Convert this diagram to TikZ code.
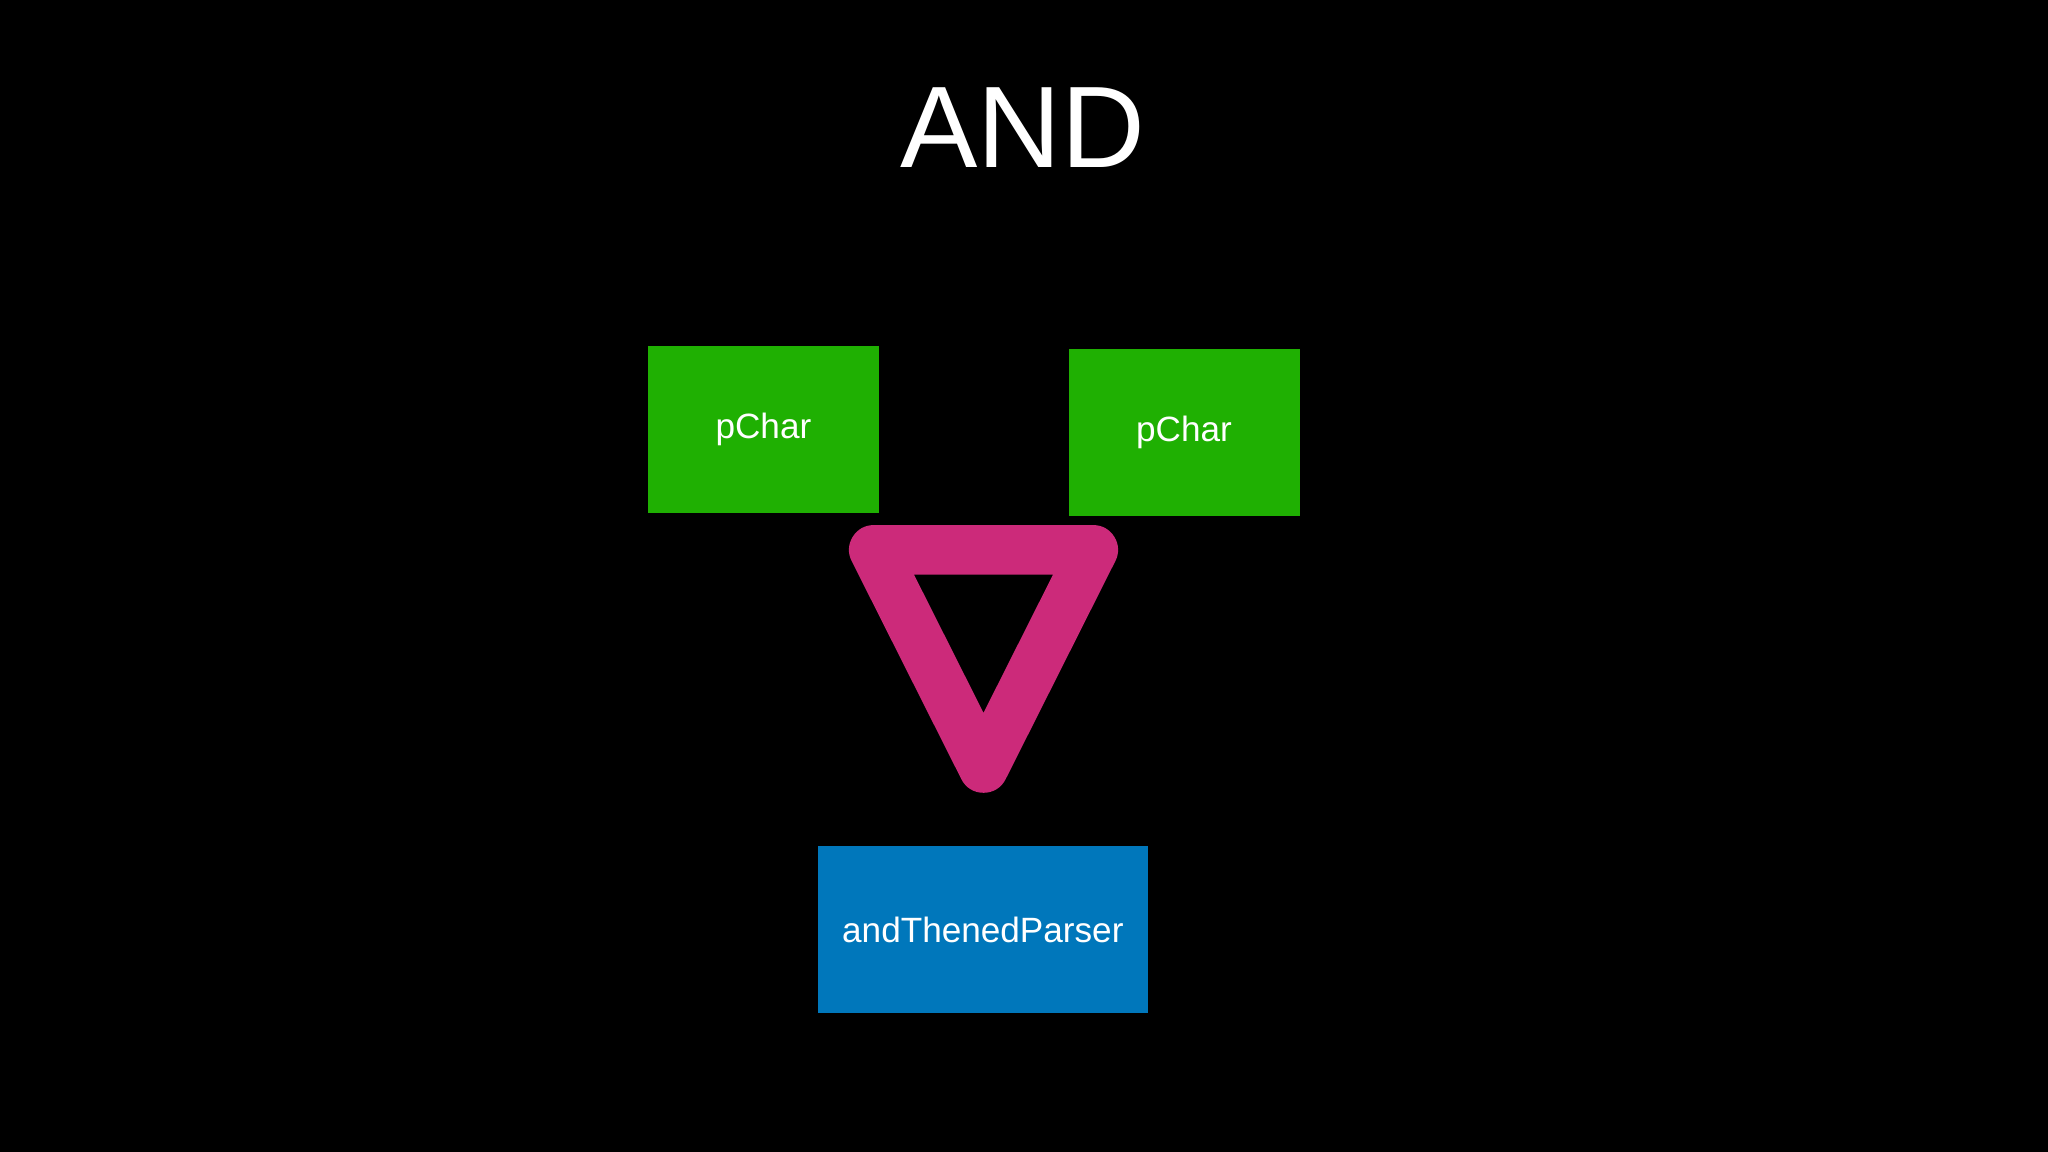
\documentclass[tikz,border=0pt]{standalone}
\usepackage{fontspec}
\setmainfont{Liberation Sans}
\definecolor{pgreen}{HTML}{1FB002}
\definecolor{pblue}{HTML}{0077BB}
\definecolor{pmagenta}{HTML}{CC2A7A}
\tikzset{
  parser/.style={fill=#1, text=white, inner sep=0pt, font=\fontsize{10}{12}\selectfont},
}
\begin{document}
\begin{tikzpicture}[x=0.01306cm, y=-0.01306cm]
    \fill[black] (0,0) rectangle (1568,882);
    \useasboundingbox (0,0) rectangle (1568,882);
    \node[text=white, font=\fontsize{33}{40}\selectfont] (title) at (783,98) {AND};
    \node[parser=pgreen, minimum width=2.31cm, minimum height=1.67cm] (left) at (584.5,329) {pChar};
    \node[parser=pgreen, minimum width=2.31cm, minimum height=1.67cm] (right) at (906.5,331) {pChar};
    \node[parser=pblue, minimum width=3.30cm, minimum height=1.67cm] (result) at (752.5,712) {andThenedParser};
    % the andThen operator
    \draw[pmagenta, line width=0.496cm, line join=round] (669,421) -- (837,421) -- (753,588) -- cycle;
\end{tikzpicture}
\end{document}
